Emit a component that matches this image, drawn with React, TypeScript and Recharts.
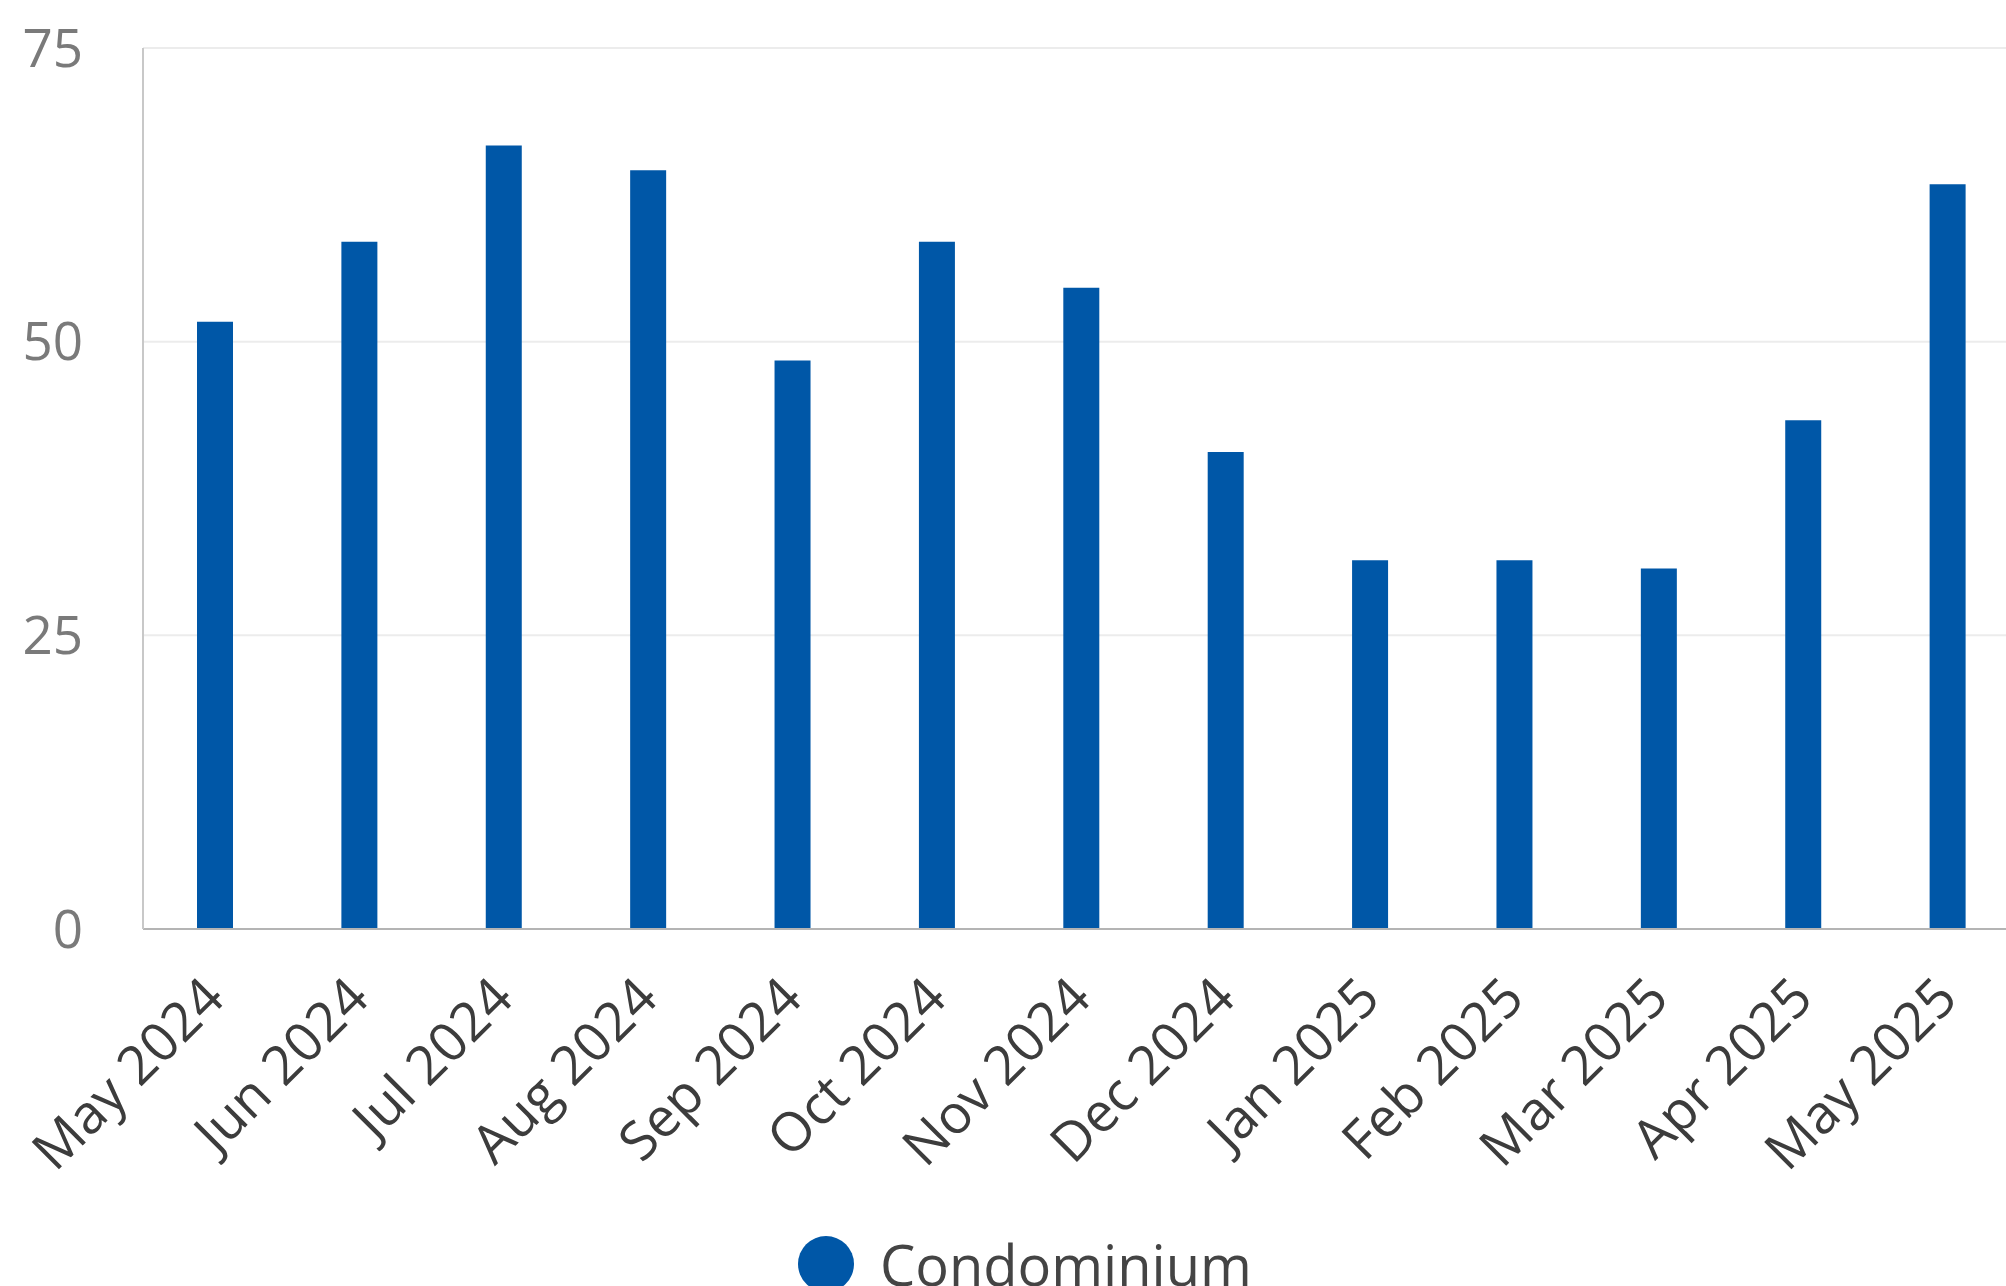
import { Bar, BarChart, CartesianGrid, Legend, XAxis, YAxis } from 'recharts'

const months = [
  'May 2024',
  'Jun 2024',
  'Jul 2024',
  'Aug 2024',
  'Sep 2024',
  'Oct 2024',
  'Nov 2024',
  'Dec 2024',
  'Jan 2025',
  'Feb 2025',
  'Mar 2025',
  'Apr 2025',
  'May 2025',
]
const condominium = [51.7, 58.5, 66.7, 64.6, 48.4, 58.5, 54.6, 40.6, 31.4, 31.4, 30.7, 43.3, 63.4]
const yTicks = [0, 25, 50, 75]

const BAR_COLOR = '#0057a7'
const FONT = '"Open Sans", "Noto Sans", sans-serif'

const data = months.map((month, i) => ({ month, condominium: condominium[i] }))

function MonthTick({ x, y, payload }: any) {
  return (
    <g transform={`translate(${x + 12},${y + 64})`}>
      <text
        textAnchor="end"
        transform="rotate(-45)"
        fill="#3c3c3c"
        fontSize={54}
        fontFamily={FONT}
      >
        {payload.value}
      </text>
    </g>
  )
}

function LegendContent() {
  return (
    <div style={{ display: 'flex', alignItems: 'center', fontFamily: FONT }}>
      <span
        style={{
          width: 56,
          height: 56,
          borderRadius: '50%',
          background: BAR_COLOR,
          display: 'inline-block',
          marginRight: 26,
        }}
      />
      <span style={{ fontSize: 56, color: '#444', lineHeight: '56px' }}>Condominium</span>
    </div>
  )
}

export default function App() {
  return (
    <div style={{ position: 'absolute', left: 0, top: 0, width: 2006, height: 1286, overflow: 'hidden', background: '#fff' }}>
      <BarChart
        width={2020}
        height={1286}
        data={data}
        margin={{ top: 48, right: 0, bottom: 0, left: 0 }}
        style={{ fontFamily: FONT }}
      >
        <CartesianGrid vertical={false} stroke="#ececec" strokeWidth={2} />
        <XAxis
          dataKey="month"
          interval={0}
          tickLine={false}
          axisLine={{ stroke: '#b4b4b4', strokeWidth: 2 }}
          tick={<MonthTick />}
          height={357}
        />
        <YAxis
          domain={[0, 75]}
          ticks={yTicks}
          width={143}
          tickLine={false}
          tickMargin={54}
          axisLine={{ stroke: '#c8c8c8', strokeWidth: 2 }}
          tick={{ fill: '#7a7a7a', fontSize: 53, fontFamily: FONT }}
        />
        <Legend
          content={<LegendContent />}
          wrapperStyle={{ position: 'absolute', left: 798, top: 1236, width: 'auto', height: 0 }}
        />
        <Bar dataKey="condominium" name="Condominium" fill={BAR_COLOR} barSize={36} isAnimationActive={false} />
      </BarChart>
    </div>
  )
}
